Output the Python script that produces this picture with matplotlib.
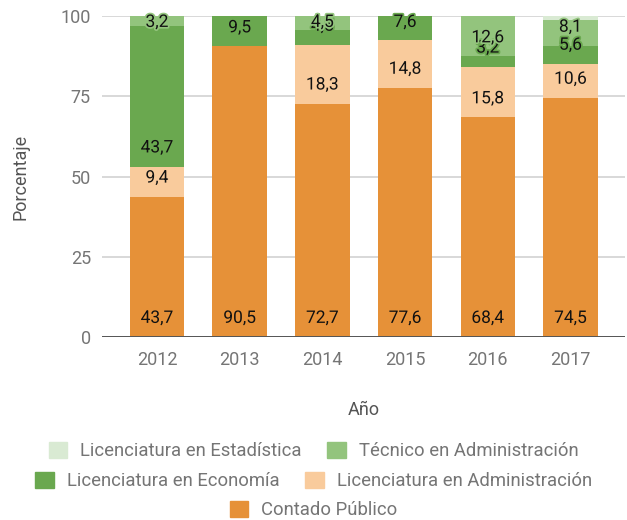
import matplotlib
matplotlib.use("Agg")
import matplotlib.pyplot as plt
import matplotlib.patheffects as pe
from matplotlib.patches import Patch
import numpy as np

plt.rcParams['font.family'] = ['Roboto', 'DejaVu Sans']

years = ["2012", "2013", "2014", "2015", "2016", "2017"]
series_names = ["Contado Público", "Licenciatura en Administración",
                "Licenciatura en Economía", "Técnico en Administración",
                "Licenciatura en Estadística"]
contado = [43.7, 90.5, 72.7, 77.6, 68.4, 74.5]
lic_admin = [9.4, 0, 18.3, 14.8, 15.8, 10.6]
lic_econ = [43.7, 9.5, 4.5, 7.6, 3.2, 5.6]
tec_admin = [3.2, 0, 4.5, 0, 12.6, 8.1]
lic_est = [0, 0, 0, 0, 0, 1.2]
colors = ["#E69138", "#F9CB9C", "#6AA84F", "#93C47D", "#D9EAD3"]

data = [contado, lic_admin, lic_econ, tec_admin, lic_est]

W, H = 627, 520
fig = plt.figure(figsize=(W/100, H/100), dpi=100)
ax_l, ax_r, ax_b, ax_t = 102, 625, 337, 16
ax = fig.add_axes([ax_l/W, 1-ax_b/H, (ax_r-ax_l)/W, (ax_b-ax_t)/H])

# category spacing in px and first centre
step = 82.7
c0 = 157
x = np.arange(len(years))
ax.set_xlim((ax_l - c0)/step, (ax_r - c0)/step)
ax.set_ylim(0, 100)

bottom = np.zeros(len(years))
for vals, col in zip(data, colors):
    v = np.array(vals)
    ax.bar(x, v, bottom=bottom, width=0.66, color=col, zorder=2)
    if col != colors[4]:
        for i, (b, h) in enumerate(zip(bottom, v)):
            if h <= 0:
                continue
            y = min(b + 5.8, 98.0)
            s = f"{h:.1f}".replace(".", ",")
            ax.text(i, y, s, ha="center", va="center", fontsize=12.5,
                    color="#111111", zorder=4,
                    path_effects=[pe.withStroke(linewidth=2.5, foreground=col)])
    bottom += v

ax.set_yticks([0, 25, 50, 75, 100])
ax.set_xticks(x)
ax.set_xticklabels(years)
ax.yaxis.grid(True, color="#d6d6d6", linewidth=1.3, zorder=0)
ax.axhline(0, color="#555555", linewidth=1.4, zorder=3)
ax.set_axisbelow(True)
for s in ax.spines.values():
    s.set_visible(False)
ax.tick_params(axis="y", length=0, labelsize=13, labelcolor="#757575", pad=8)
ax.tick_params(axis="x", length=0, labelsize=13, labelcolor="#757575", pad=10)
ax.set_ylabel("Porcentaje", fontsize=13, color="#555555")
ax.set_xlabel("Año", fontsize=13, color="#555555", labelpad=23)
ax.yaxis.set_label_coords(-(ax_l-30)/(ax_r-ax_l), 0.5)

def handle(c):
    return Patch(facecolor=c, edgecolor=c)

rows = [
    ([4, 3], 451),
    ([2, 1], 481),
    ([0], 510),
]
for idxs, ypix in rows:
    fig.legend([handle(colors[k]) for k in idxs], [series_names[k] for k in idxs],
               ncol=len(idxs), loc="center", bbox_to_anchor=(0.5, 1 - ypix/H),
               frameon=False, fontsize=13.3, labelcolor="#757575",
               handlelength=1.0, handleheight=1.0, handletextpad=0.7,
               columnspacing=1.4, borderpad=0, borderaxespad=0)

fig.savefig("out.png", dpi=100)
